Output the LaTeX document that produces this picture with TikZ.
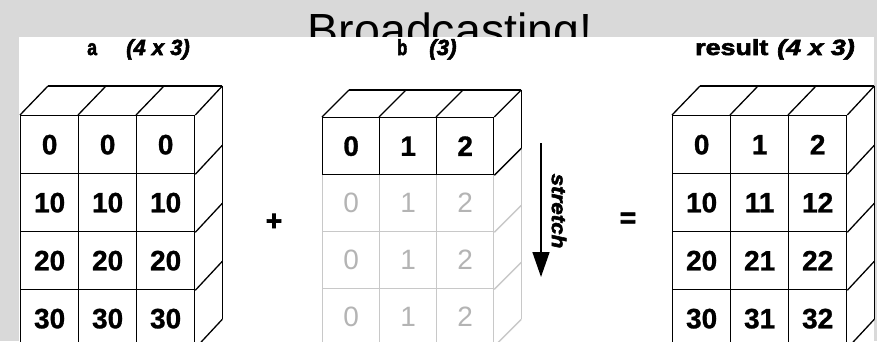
\documentclass[tikz,border=0pt]{standalone}
\usepackage{fontspec}
\usepackage{graphicx}
\setmainfont{Liberation Sans}
\newfontface\heavyfont[FakeBold=2.5]{Liberation Sans Bold}
\newfontface\heavyitfont[FakeBold=2.5]{Liberation Sans Bold Italic}
\newfontface\numberfont[FakeBold=1]{Liberation Sans Bold}
\usetikzlibrary{arrows.meta,calc}
\definecolor{bggray}{RGB}{217,217,217}
\definecolor{fadeline}{RGB}{200,200,200}
\definecolor{fadetext}{RGB}{180,180,180}
\newcommand{\numfont}{\fontsize{28}{28}\selectfont\numberfont}
\newcommand{\fadefont}{\fontsize{28}{28}\selectfont}
\newcommand{\lblfont}{\fontsize{22}{22}\selectfont\heavyfont}
\newcommand{\lblitfont}{\fontsize{22}{22}\selectfont\heavyitfont}
\begin{document}
\begin{tikzpicture}[x=1pt,y=-1pt,
  cell/.style={draw=black, line width=1.3pt, minimum width=58pt, minimum height=58pt, inner sep=0pt, anchor=north west, font=\numfont},
  bcell/.style={cell, minimum width=57pt, minimum height=57pt},
  fcell/.style={bcell, draw=fadeline, text=fadetext, font=\fadefont},
  edge/.style={line width=1.3pt, draw=black},
  fedge/.style={line width=1.3pt, draw=fadeline},
  lbl/.style={anchor=base west, inner sep=0pt, font=\lblfont},
  dims/.style={anchor=base west, inner sep=0pt, font=\lblitfont},
  opsign/.style={inner sep=0pt, font=\fontsize{28}{28}\selectfont\heavyfont},
]
\useasboundingbox (0,0) rectangle (877,341);
\clip (0,0) rectangle (877,341);
\fill[bggray] (0,0) rectangle (877,341);
\begin{scope}
\clip (0,0) rectangle (877,37);
\node[anchor=base, inner sep=0pt, font=\fontsize{46.5}{46.5}\selectfont] (title) at (450,46.5) {Broadcasting!};
\end{scope}
\fill[white] (19,37) rectangle (874,345);

% labels
\node[lbl] (la) at (87,55) {\scalebox{0.8}[1]{a}};
\node[dims] (ladim) at (126,55) {\scalebox{1.0}[1]{(4 x 3)}};
\node[lbl] (lb) at (397,55) {\scalebox{0.75}[1]{b}};
\node[dims] (lbdim) at (429,55) {\scalebox{1.02}[1]{(3)}};
\node[lbl] (lr) at (695,55) {\scalebox{1.22}[1]{result}};
\node[dims] (lrdim) at (777,55) {\scalebox{1.22}[1]{(4 x 3)}};

% array a
\foreach \r/\v in {1/0,2/10,3/20,4/30} {
  \foreach \c in {1,2,3} {
    \node[cell] (a-\r-\c) at ({20+58*(\c-1)}, {115+58*(\r-1)}) {\v};
  }
}
\foreach \c in {1,2,3} \draw[edge] (a-1-\c.north west) -- ++(28,-29);
\draw[edge] (a-1-3.north east) -- ++(27,-29) coordinate (a-tr);
\draw[edge] ($(a-1-1.north west)+(28,-29)$) -- (a-tr);
\foreach \r in {1,2,3,4} \draw[edge] (a-\r-3.south east) -- ++(27,-29);
\draw[edge] (a-tr) -- ($(a-4-3.south east)+(27,-29)$);

% array b (faded stretched rows)
\foreach \r in {2,3,4} {
  \foreach \c/\v in {1/0,2/1,3/2} {
    \node[fcell] (b-\r-\c) at ({322+57*(\c-1)}, {117+57*(\r-1)}) {\v};
  }
}
\foreach \r in {2,3,4} \draw[fedge] (b-\r-3.south east) -- ++(27,-27);
% array b (real row)
\foreach \c/\v in {1/0,2/1,3/2} {
  \node[bcell] (b-1-\c) at ({322+57*(\c-1)}, 117) {\v};
}
\draw[fedge] ($(b-1-3.south east)+(27,-27)$) -- ($(b-4-3.south east)+(27,-27)$);
\foreach \c in {1,2,3} \draw[edge] (b-1-\c.north west) -- ++(27,-27);
\draw[edge] (b-1-3.north east) -- ++(27,-27) coordinate (b-tr);
\draw[edge] ($(b-1-1.north west)+(27,-27)$) -- (b-tr);
\draw[edge] (b-1-3.south east) -- ++(27,-27) coordinate (b-br);
\draw[edge] (b-tr) -- (b-br);

% stretch arrow
\coordinate (stop) at (541,143);
\coordinate (sbot) at (541,277);
\draw[line width=1.5pt, -{Triangle[length=25pt,width=17pt]}] (stop) -- (sbot);
\node[rotate=-90, inner sep=0pt, font=\fontsize{20}{20}\selectfont\heavyitfont] (stretch) at (559,211) {\scalebox{1.12}[1]{stretch}};

% operators
\node[opsign] (plus) at (274,222) {+};
\node[opsign] (equals) at (628,220) {=};

% result
\foreach \r/\va/\vb/\vc in {1/0/1/2,2/10/11/12,3/20/21/22,4/30/31/32} {
  \node[cell] (r-\r-1) at (672, {115+58*(\r-1)}) {\va};
  \node[cell] (r-\r-2) at (730, {115+58*(\r-1)}) {\vb};
  \node[cell] (r-\r-3) at (788, {115+58*(\r-1)}) {\vc};
}
\foreach \c in {1,2,3} \draw[edge] (r-1-\c.north west) -- ++(28,-29);
\draw[edge] (r-1-3.north east) -- ++(27,-29) coordinate (r-tr);
\draw[edge] ($(r-1-1.north west)+(28,-29)$) -- (r-tr);
\foreach \r in {1,2,3,4} \draw[edge] (r-\r-3.south east) -- ++(27,-29);
\draw[edge] (r-tr) -- ($(r-4-3.south east)+(27,-29)$);
\end{tikzpicture}
\end{document}
